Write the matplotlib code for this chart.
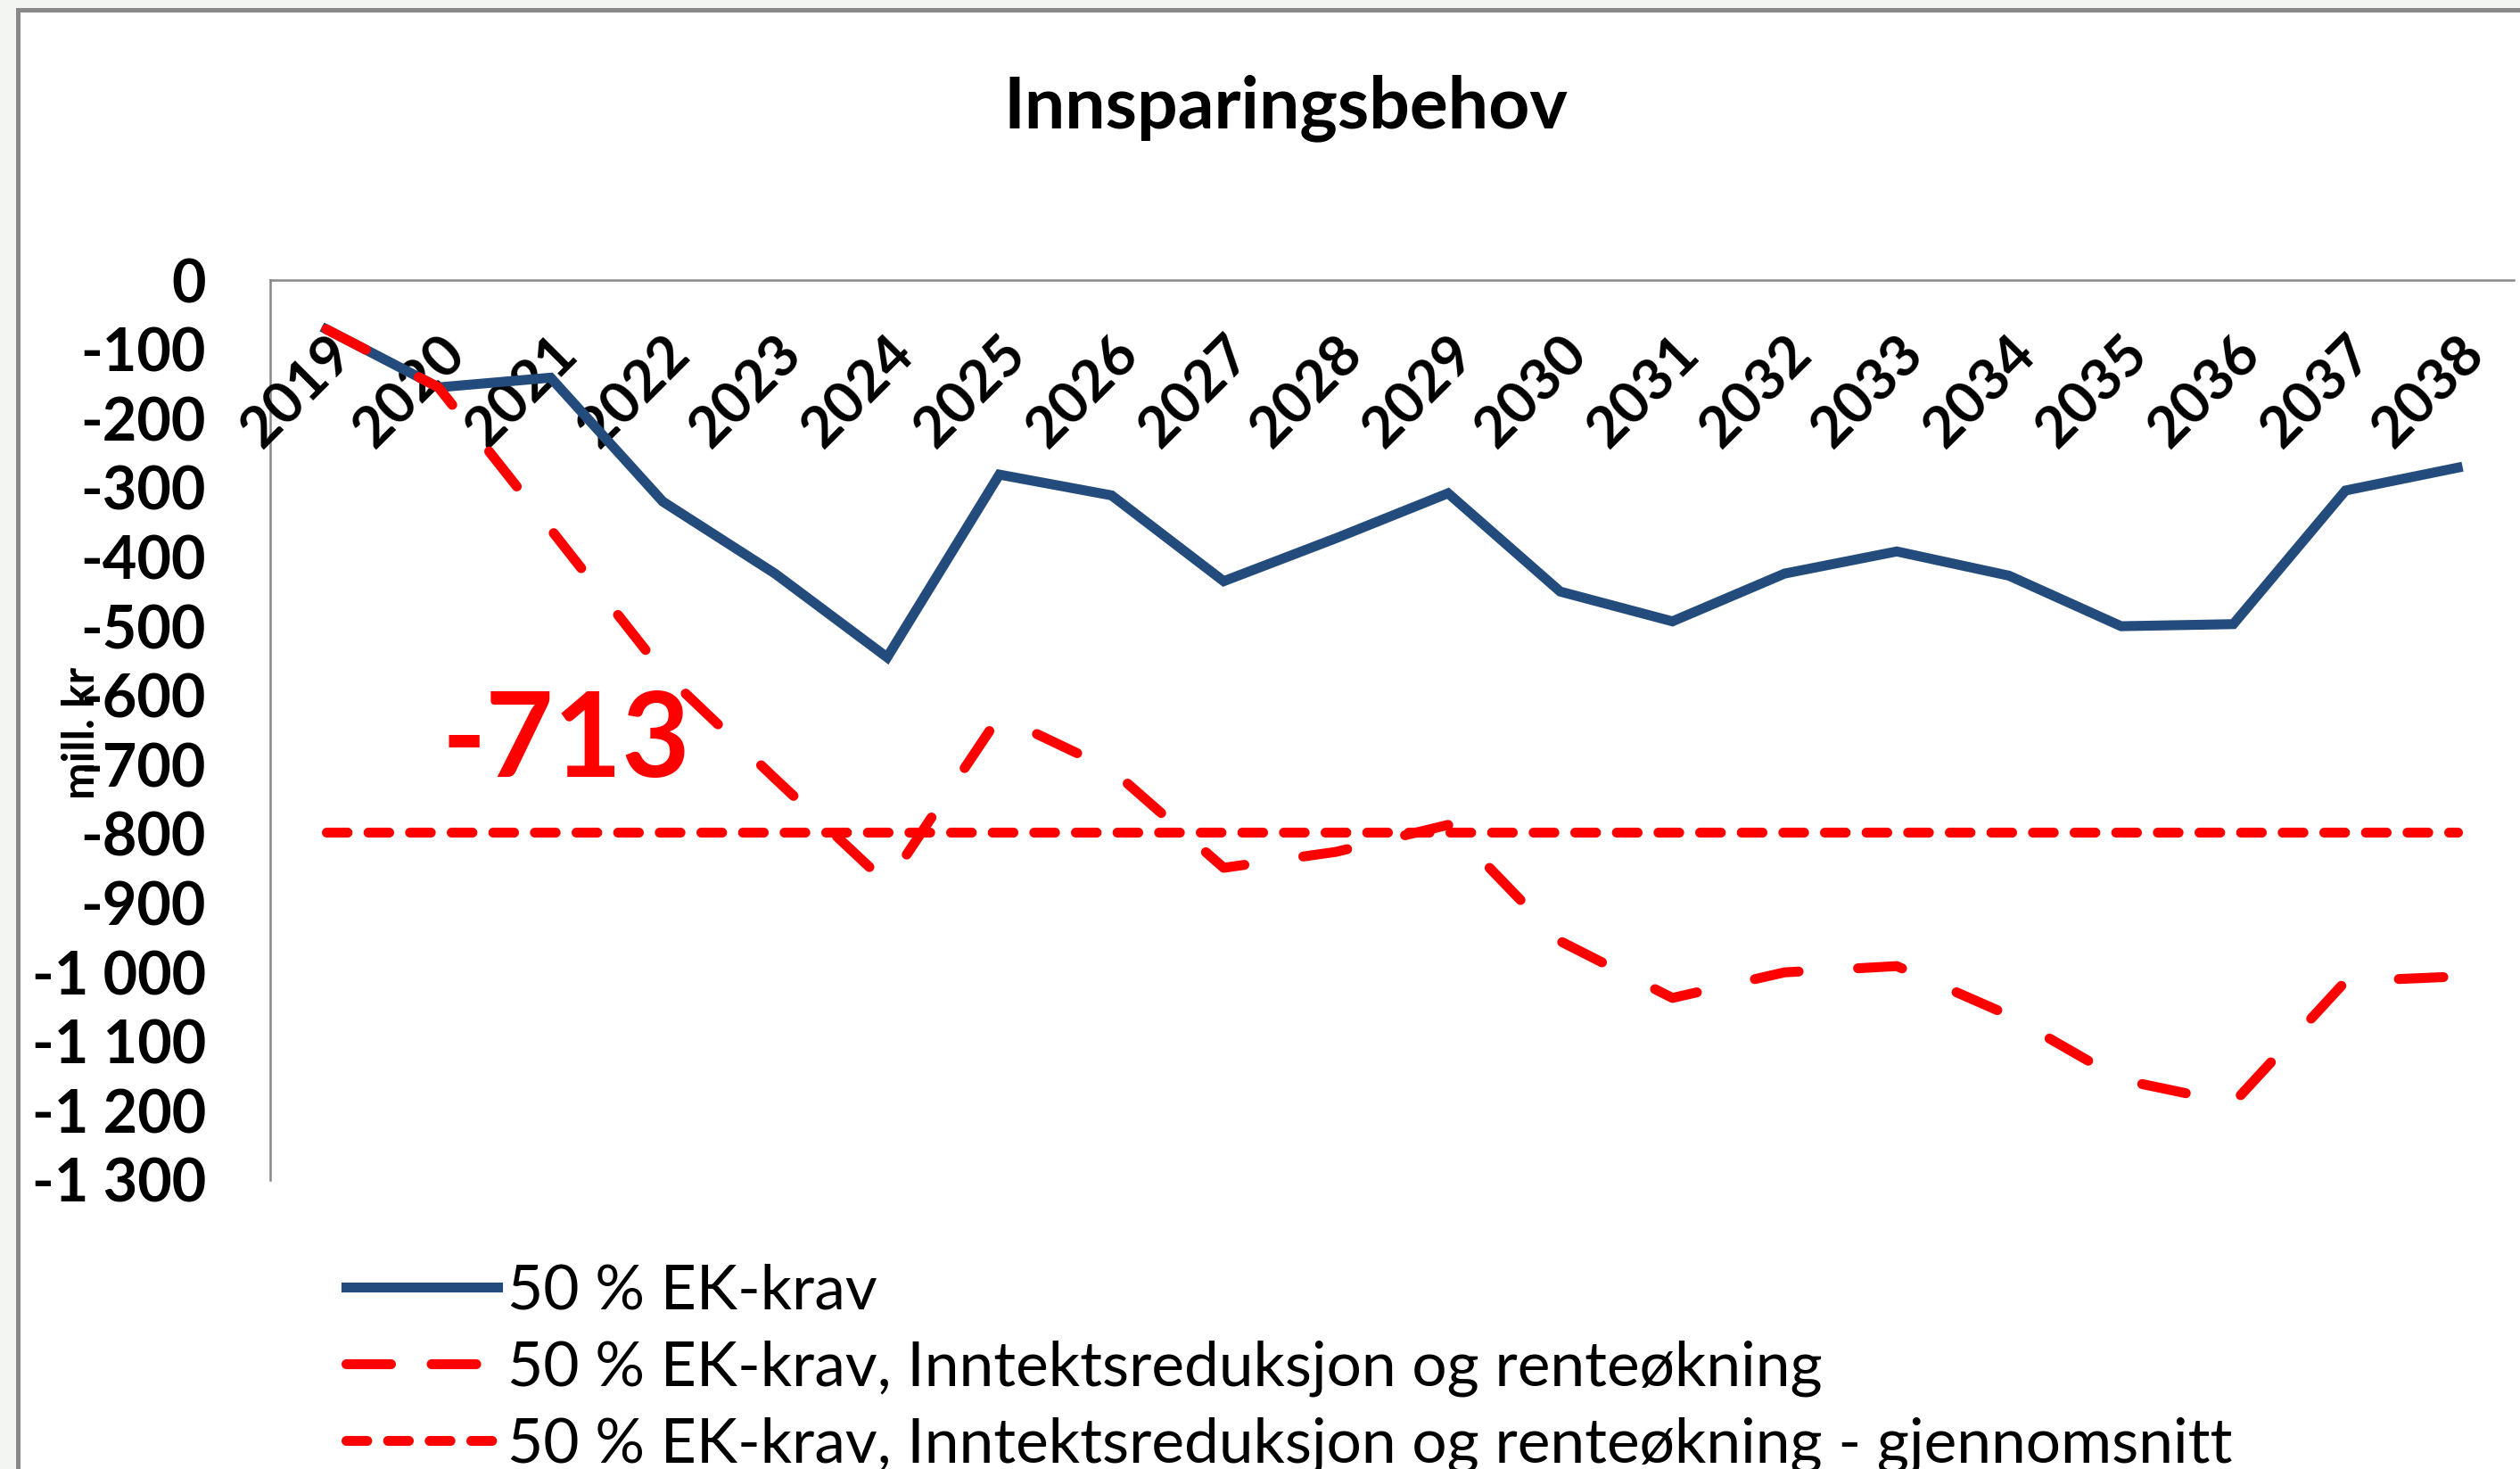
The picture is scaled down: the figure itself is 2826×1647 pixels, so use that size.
import numpy as np
import matplotlib.pyplot as plt
from matplotlib.patches import Rectangle
import matplotlib.transforms as mtransforms

plt.rcParams['font.family'] = ['Lato', 'DejaVu Sans']

# data (mill. kr)
years = ['2019', '2020', '2021', '2022', '2023', '2024', '2025', '2026', '2027', '2028',
         '2029', '2030', '2031', '2032', '2033', '2034', '2035', '2036', '2037', '2038']
ek_krav = [-71, -155, -141, -320, -424, -545, -281, -311, -435, -373,
           -308, -450, -493, -424, -392, -427, -500, -497, -304, -271]
ek_krav_red = [-71, -155, -360, -566, -720, -872, -630, -707, -849, -826,
               -787, -955, -1037, -1000, -991, -1062, -1155, -1189, -1013, -1006]
ek_krav_avg = -798
avg_label = '-713'

y_ticks = [0, -100, -200, -300, -400, -500, -600, -700, -800, -900, -1000, -1100, -1200, -1300]
y_tick_labels = ['0', '-100', '-200', '-300', '-400', '-500', '-600', '-700', '-800', '-900',
                 '-1 000', '-1 100', '-1 200', '-1 300']

legend_labels = ['50 % EK-krav',
                 '50 % EK-krav, Inntektsreduksjon og renteøkning',
                 '50 % EK-krav, Inntektsreduksjon og renteøkning - gjennomsnitt']

W, H = 2826, 1647
fig = plt.figure(figsize=(W / 100, H / 100), dpi=100)
fig.patch.set_facecolor('#f3f5f2')

# white chart area with grey frame on left/top
frame = Rectangle((20 / W, -0.5), 2.0, 0.5 + (H - 11) / H, transform=fig.transFigure,
                  facecolor='white', edgecolor='#888888', linewidth=3.6, zorder=-1)
fig.patches.append(frame)

ax = fig.add_axes([303 / W, (H - 1323) / H, 2516 / W, 1009 / H])
ax.set_facecolor('none')

x = np.arange(len(years))
blue = '#234b7c'
red = '#ff0000'

ax.plot(x, ek_krav, color=blue, lw=8, solid_joinstyle='miter', zorder=4)
ax.plot(x, ek_krav_red, color=red, lw=8, dashes=(4.5, 6), dash_capstyle='round', zorder=4)
ax.plot(x, np.full(len(years), ek_krav_avg), color=red, lw=8, dashes=(2.1, 2.1),
        dash_capstyle='round', zorder=4)

ax.set_xlim(-0.5, len(years) - 0.5)
ax.set_ylim(-1300, 0)
ax.set_xticks([])
ax.set_yticks(y_ticks, y_tick_labels, fontsize=48, fontweight='bold')
ax.tick_params(axis='y', length=0, pad=52)

for side in ['right', 'bottom']:
    ax.spines[side].set_visible(False)
for side in ['left', 'top']:
    ax.spines[side].set_color('#888888')
    ax.spines[side].set_linewidth(1.8)

# category labels sit just under the axis line (at y = 0)
trans = mtransforms.blended_transform_factory(ax.transData, ax.transAxes)
for i, yr in enumerate(years):
    ax.text(i, 0.948, yr, transform=trans, rotation=45, rotation_mode='anchor',
            ha='right', va='top', fontsize=46, fontweight='bold', zorder=3)

ax.text(2.14, -669, avg_label, color=red, fontsize=95, fontweight='bold',
        ha='center', va='center', zorder=5)

fig.text(92 / W, 1 - 822 / H, 'mill. kr', rotation=90, ha='center', va='center',
         fontsize=36, fontweight='bold', zorder=6)

fig.text(1442 / W, 1 - 121 / H, 'Innsparingsbehov', ha='center', va='center',
         fontsize=58, fontweight='bold')

handles = [
    plt.Line2D([], [], color=blue, lw=8),
    plt.Line2D([], [], color=red, lw=8, dashes=(4.5, 4.1), dash_capstyle='round'),
    plt.Line2D([], [], color=red, lw=8, dashes=(2.1, 2.1), dash_capstyle='round'),
]
fig.legend(handles, legend_labels, loc='upper left', bbox_to_anchor=(388 / W, 0.140),
           frameon=False, fontsize=50, handlelength=2.45, handletextpad=0.16,
           labelspacing=0.33, borderpad=0, borderaxespad=0)

fig.savefig('out.png', dpi=100, facecolor=fig.get_facecolor())
